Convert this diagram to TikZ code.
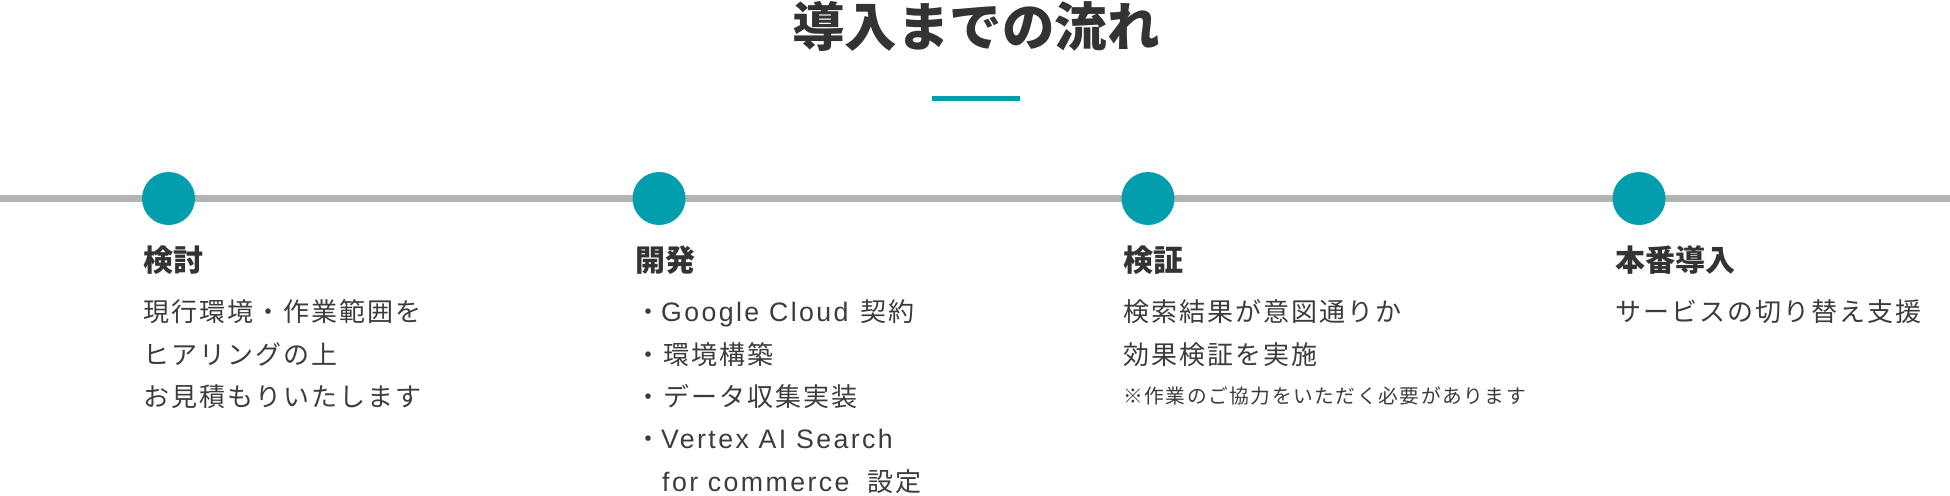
\documentclass[tikz,border=0pt]{standalone}
\usepackage{fontspec}
\newfontfamily\jp{Noto Sans CJK JP}
\newfontfamily\jpsp{Noto Sans CJK JP}[LetterSpace=8]
\newfontfamily\lat{Liberation Sans}[LetterSpace=9]
\definecolor{tealc}{HTML}{039EAD}
\definecolor{linec}{HTML}{B3B3B3}
\definecolor{headc}{HTML}{333333}
\definecolor{bodyc}{HTML}{3C3C3C}
\newcommand{\latw}[1]{{\lat\fontsize{26.7}{30}\selectfont #1}}
\tikzset{
  titletext/.style={font=\jp\bfseries\fontsize{52.5}{60}\selectfont, text=headc, anchor=base, inner sep=0},
  headtext/.style={font=\jp\bfseries\fontsize{30}{36}\selectfont, text=headc, anchor=base west, inner sep=0},
  bodytext/.style={font=\jpsp\fontsize{26}{30}\selectfont, text=bodyc, anchor=base west, inner sep=0},
  notetext/.style={font=\jpsp\fontsize{19.7}{23}\selectfont, text=bodyc, anchor=base west, inner sep=0},
  stepdot/.style={circle, fill=tealc, minimum size=53, inner sep=0},
  timeline/.style={draw=linec, line width=7},
}
\begin{document}
\begin{tikzpicture}[x=1pt,y=-1pt]
\useasboundingbox (0,0) rectangle (1950,495);
\fill[white] (0,0) rectangle (1950,495);
% title
\node[titletext] (title) at (976,46.5) {導入までの流れ};
\node[fill=tealc, minimum width=88, minimum height=5, inner sep=0] (bar) at (976,98.5) {};
% timeline
\coordinate (tl) at (0,198.5);
\coordinate (tr) at (1950,198.5);
\draw[timeline] (tl) -- (tr);
\node[stepdot] (d1) at (168.5,198.5) {};
\node[stepdot] (d2) at (659,198.5) {};
\node[stepdot] (d3) at (1148,198.5) {};
\node[stepdot] (d4) at (1639,198.5) {};
% column 1
\node[headtext] (h1) at (143,271) {検討};
\node[bodytext] (a1) at (143,321.5) {現行環境・作業範囲を};
\node[bodytext] (a2) at (143,364) {ヒアリングの上};
\node[bodytext] (a3) at (143,406.5) {お見積もりいたします};
% column 2
\node[headtext] (h2) at (635,271) {開発};
\node[bodytext] (b1) at (635,321.5) {・\latw{Google Cloud}\hspace*{12pt}契約};
\node[bodytext] (b2) at (635,364) {・環境構築};
\node[bodytext] (b3) at (635,406.5) {・データ収集実装};
\node[bodytext] (b4) at (635,448.5) {・\latw{Vertex AI Search}};
\node[bodytext] (b5) at (662,491) {\latw{for commerce}\hspace*{18pt}設定};
% column 3
\node[headtext] (h3) at (1123,271) {検証};
\node[bodytext] (c1) at (1123,321.5) {検索結果が意図通りか};
\node[bodytext] (c2) at (1123,364) {効果検証を実施};
\node[notetext] (c3) at (1123,403) {※作業のご協力をいただく必要があります};
% column 4
\node[headtext] (h4) at (1615,271) {本番導入};
\node[bodytext] (e1) at (1615,321.5) {サービスの切り替え支援};
\end{tikzpicture}
\end{document}
